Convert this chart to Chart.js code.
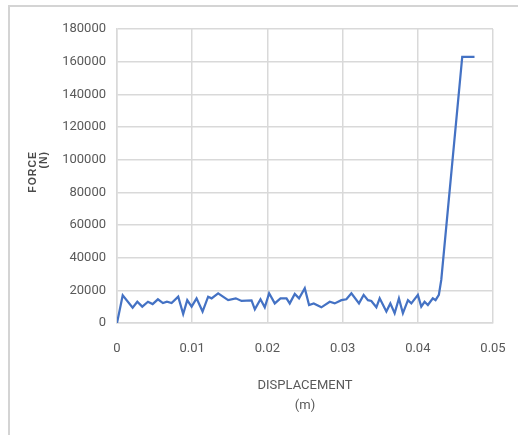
<!DOCTYPE html>
<html>
<head>
<meta charset="utf-8">
<script src="https://cdn.jsdelivr.net/npm/chart.js@4.4.1/dist/chart.umd.min.js"></script>
<style>
  html, body { margin: 0; padding: 0; background: #ffffff; }
  body { width: 518px; height: 435px; position: relative; overflow: hidden; }
  #frame { position: absolute; left: 8px; top: 5px; width: 530px; height: 440px;
           border-left: 2px solid #d4d4d4; border-top: 2px solid #d4d4d4; box-sizing: border-box; }
  #wrap { position: absolute; left: 0; top: 0; width: 518px; height: 435px; }
</style>
</head>
<body>
<div id="frame"></div>
<div id="wrap"><canvas id="chart" width="518" height="435"></canvas></div>
<script>
// Force–displacement record of the test (displacement in m, force in N)
const displacement = [
  0, 0.00076, 0.00208, 0.0027, 0.00336, 0.00412, 0.00474, 0.00544, 0.00611, 0.00664,
  0.00726, 0.00814, 0.0088, 0.00934, 0.00992, 0.01058, 0.01138, 0.01212, 0.01258, 0.01345,
  0.01478, 0.0158, 0.01656, 0.01789, 0.01833, 0.01908, 0.01965, 0.02023, 0.02098, 0.02174,
  0.02254, 0.02297, 0.02364, 0.02421, 0.02497, 0.02554, 0.02616, 0.02718, 0.02829, 0.02895,
  0.02984, 0.0305, 0.03117, 0.03218, 0.0328, 0.03337, 0.03382, 0.03449, 0.03493, 0.03582,
  0.03635, 0.03692, 0.03749, 0.03802, 0.03869, 0.03914, 0.04001, 0.04046, 0.0409, 0.04134,
  0.042, 0.04236, 0.0428, 0.04312, 0.04591, 0.04754
];
const force = [
  0, 17000, 9400, 13000, 10000, 13000, 11600, 14500, 12200, 13000,
  12200, 16100, 5500, 14000, 10000, 15100, 7000, 16100, 15100, 18200,
  14000, 15100, 13500, 13800, 8400, 14500, 9600, 18200, 12000, 15100,
  15100, 12000, 17800, 15100, 21300, 11000, 12000, 9600, 13000, 12000,
  14000, 14500, 18200, 12000, 17200, 14000, 13500, 9600, 15100, 7000,
  12000, 6000, 15100, 6000, 14000, 12000, 17200, 10000, 13000, 11000,
  15100, 14000, 17200, 26400, 163000, 163000
];

// Axis ticks and captions
const xTicks = [0, 0.01, 0.02, 0.03, 0.04, 0.05];
const yTicks = [0, 20000, 40000, 60000, 80000, 100000, 120000, 140000, 160000, 180000];
const xTitle = ['DISPLACEMENT', '(m)'];
const yTitle = ['FORCE', '(N)'];

const points = displacement.map((d, i) => ({ x: d, y: force[i] }));

const tickFont = { family: "Roboto, sans-serif", size: 13 };
const gridColor = '#d9d9d9';
const textColor = '#595959';

// Rotated, stacked caption for the force axis
const forceCaption = {
  id: 'forceCaption',
  afterDraw(chart) {
    const ctx = chart.ctx;
    ctx.save();
    ctx.fillStyle = '#4a4a4a';
    ctx.font = "bold 10.5px 'Liberation Sans', Arial, sans-serif";
    ctx.letterSpacing = '1px';
    ctx.textAlign = 'right';
    ctx.textBaseline = 'middle';
    const xs = [33, 44];
    yTitle.forEach((t, i) => {
      ctx.save();
      ctx.translate(xs[i], 151);
      ctx.rotate(-Math.PI / 2);
      ctx.fillText(t, 0, 0);
      ctx.restore();
    });
    ctx.restore();
  }
};

new Chart(document.getElementById('chart'), {
  type: 'line',
  data: {
    datasets: [{
      data: points,
      borderColor: '#4472C4',
      borderWidth: 2.25,
      pointRadius: 0,
      tension: 0,
      fill: false
    }]
  },
  options: {
    responsive: false,
    animation: false,
    layout: { padding: { top: 29, right: 25, left: 0, bottom: 0 } },
    plugins: { legend: { display: false }, tooltip: { enabled: false } },
    scales: {
      x: {
        type: 'linear',
        min: 0,
        max: 0.05,
        afterBuildTicks: s => { s.ticks = xTicks.map(v => ({ value: v })); },
        afterFit: s => { s.height = 112; },
        grid: { color: gridColor, lineWidth: 1.5, drawTicks: true, tickLength: 16, tickColor: 'rgba(0,0,0,0)' },
        border: { color: gridColor, width: 1.5 },
        ticks: { color: textColor, font: tickFont, padding: 2, maxRotation: 0,
                 callback: v => String(v) },
        title: { display: true, text: xTitle, color: textColor,
                 font: { family: tickFont.family, size: 13, lineHeight: '20px' },
                 padding: { top: 0, bottom: 19 } }
      },
      y: {
        min: 0,
        max: 180000,
        afterBuildTicks: s => { s.ticks = yTicks.map(v => ({ value: v })); },
        afterFit: s => { s.width = 117; },
        grid: { color: gridColor, lineWidth: 1.5, drawTicks: false },
        border: { color: gridColor, width: 1.5 },
        ticks: { color: textColor, font: tickFont, padding: 11,
                 callback: v => String(v) }
      }
    }
  },
  plugins: [forceCaption]
});
</script>
</body>
</html>
